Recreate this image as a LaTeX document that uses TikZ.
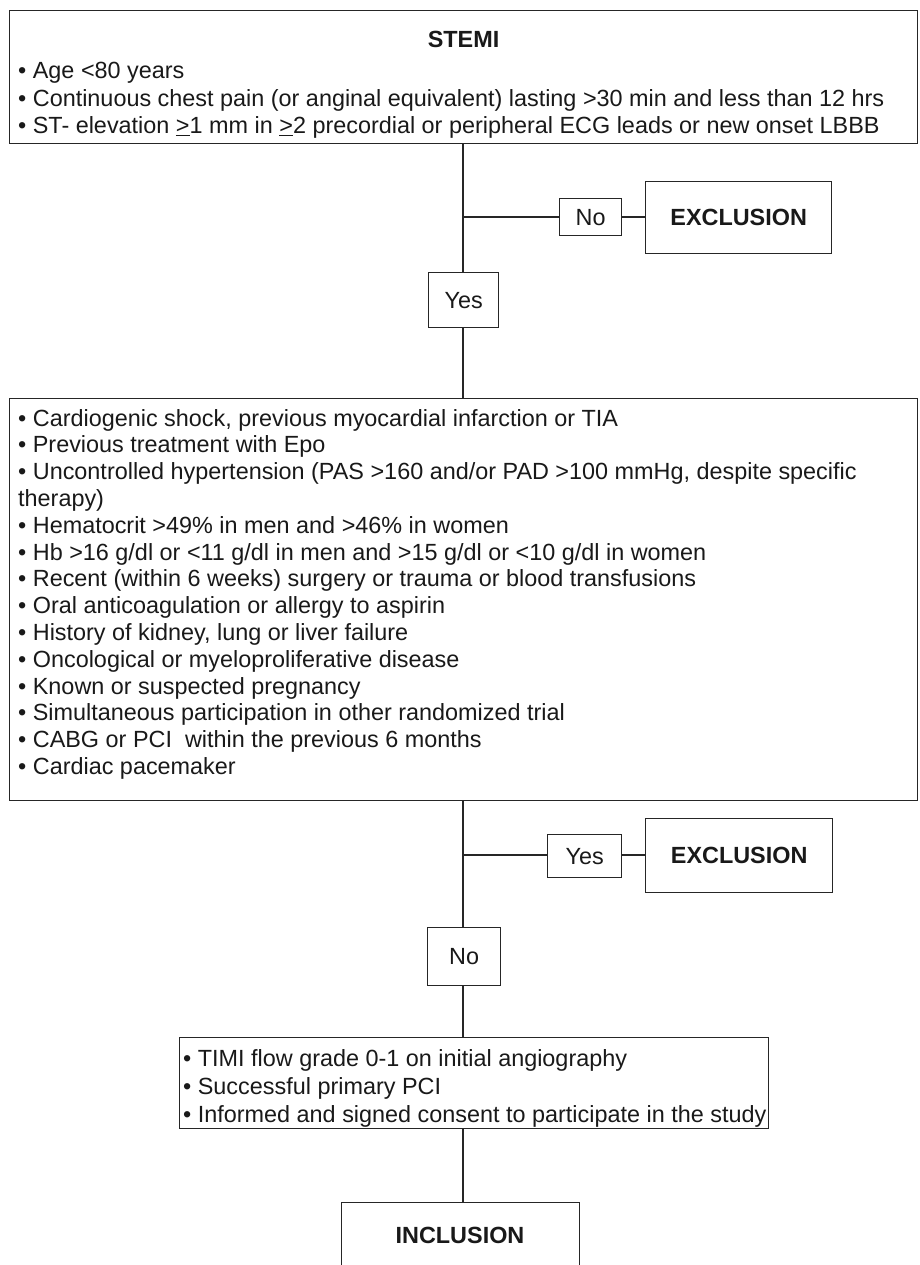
\documentclass[tikz,border=0pt]{standalone}
\usepackage{fontspec}
\setmainfont{Liberation Sans}
\newcommand{\fs}{\fontsize{23.4}{26.8}\selectfont}
\tikzset{
  box/.style={draw=black!85, line width=1.3pt, inner sep=0pt, anchor=north west},
  ln/.style={draw=black!85, line width=1.3pt},
  tx/.style={font=\fs, anchor=base west, inner sep=0pt, text=black!90},
  lbl/.style={font=\fs, text=black!90},
  bl/.style={font=\fs\bfseries, text=black!90},
}
\begin{document}
\begin{tikzpicture}[x=1pt,y=-1pt]
\useasboundingbox (0,0) rectangle (920,1265);
\fill[white] (0,0) rectangle (920,1265);
\clip (0,0) rectangle (920,1265);

% top box
\node[box, minimum width=908pt, minimum height=133pt] (stemi) at (9,10) {};
\node[bl, anchor=base, inner sep=0pt] (stemiT) at (463.5,48) {STEMI};
\node[tx] (s1) at (18,79) {• Age <80 years};
\node[tx] (s2) at (18,106.5) {• Continuous chest pain (or anginal equivalent) lasting >30 min and less than 12 hrs};
\node[tx] (s3) at (18,134) {• ST- elevation \underline{>}1 mm in \underline{>}2 precordial or peripheral ECG leads or new onset LBBB};

% first decision
\coordinate (sp1) at (463,217);
\node[box, minimum width=62pt, minimum height=37pt, lbl] (no1) at (559,198) {No};
\node[box, minimum width=186pt, minimum height=72pt, bl] (ex1) at (645,181) {EXCLUSION};
\node[box, minimum width=70pt, minimum height=55pt, lbl] (yes1) at (428,272) {Yes};

% criteria box
\node[box, minimum width=908pt, minimum height=402pt] (crit) at (9,398) {};
\foreach \t [count=\i from 0] in {
  {• Cardiogenic shock, previous myocardial infarction or TIA},
  {• Previous treatment with Epo},
  {• Uncontrolled hypertension (PAS >160 and/or PAD >100 mmHg, despite specific},
  {therapy)},
  {• Hematocrit >49\% in men and >46\% in women},
  {• Hb >16 g/dl or <11 g/dl in men and >15 g/dl or <10 g/dl in women},
  {• Recent (within 6 weeks) surgery or trauma or blood transfusions},
  {• Oral anticoagulation or allergy to aspirin},
  {• History of kidney, lung or liver failure},
  {• Oncological or myeloproliferative disease},
  {• Known or suspected pregnancy},
  {• Simultaneous participation in other randomized trial},
  {• CABG or PCI\ \ within the previous 6 months},
  {• Cardiac pacemaker}}
  \node[tx] (c\i) at (18,{426+\i*26.8}) {\t};

% second decision
\coordinate (sp2) at (463,855);
\node[box, minimum width=74pt, minimum height=43pt, lbl] (yes2) at (547,834) {Yes};
\node[box, minimum width=187pt, minimum height=74pt, bl] (ex2) at (645,818) {EXCLUSION};
\node[box, minimum width=73pt, minimum height=58pt, lbl] (no2) at (427,927) {No};

% TIMI box
\node[box, minimum width=589pt, minimum height=91pt] (timi) at (179,1037) {};
\node[tx] (t1) at (183,1066) {• TIMI flow grade 0-1 on initial angiography};
\node[tx] (t2) at (183,1094) {• Successful primary PCI};
\node[tx] (t3) at (183,1122) {• Informed and signed consent to participate in the study};

% inclusion
\node[box, minimum width=238pt, minimum height=120pt] (incl) at (341,1202) {};
\node[bl, anchor=center, inner sep=0pt] (inclT) at (460,1235) {INCLUSION};

% connectors
\draw[ln] (stemi.south -| sp1) -- (yes1.north -| sp1);
\draw[ln] (sp1) -- (no1.west |- sp1);
\draw[ln] (no1.east |- sp1) -- (ex1.west |- sp1);
\draw[ln] (yes1.south -| sp1) -- (crit.north -| sp1);
\draw[ln] (crit.south -| sp2) -- (no2.north -| sp2);
\draw[ln] (sp2) -- (yes2.west |- sp2);
\draw[ln] (yes2.east |- sp2) -- (ex2.west |- sp2);
\draw[ln] (no2.south -| sp2) -- (timi.north -| sp2);
\draw[ln] (timi.south -| sp2) -- (incl.north -| sp2);
\end{tikzpicture}
\end{document}
